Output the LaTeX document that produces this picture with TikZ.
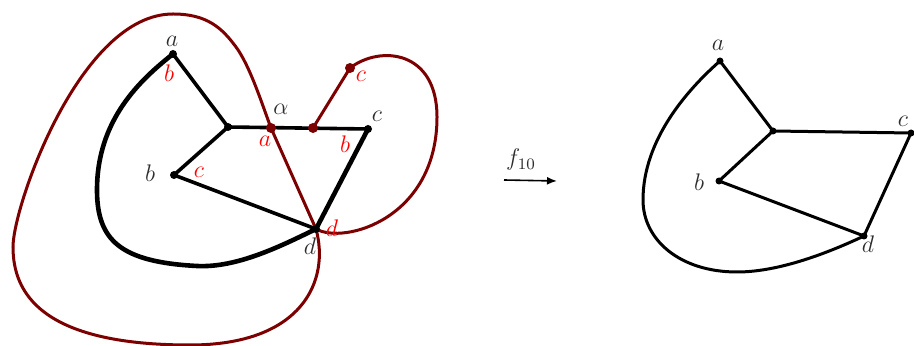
\documentclass[tikz,border=0pt]{standalone}
\usepackage{amsmath}
\usepackage{xcolor}
\usetikzlibrary{arrows.meta}
\definecolor{loopred}{RGB}{125,0,0}
\definecolor{labgray}{RGB}{45,45,45}
\tikzset{
    edge/.style={line width=1.8pt, black},
    heavyedge/.style={line width=2.3pt, black},
    loopline/.style={line width=1.5pt, loopred},
    vdot/.style={circle, fill=black, inner sep=0pt, minimum size=4pt},
    rdot/.style={circle, fill=loopred, inner sep=0pt, minimum size=5pt},
    lab/.style={text=labgray, inner sep=0pt, font=\large},
    rlab/.style={text=red, inner sep=0pt, font=\large}
}

\begin{document}
\begin{tikzpicture}[x=0.5pt, y=-0.5pt]
    \useasboundingbox (0, 0) rectangle (914, 346);

    % left picture
    \coordinate (a) at (173, 54);
    \coordinate (h) at (228, 127);
    \coordinate (b) at (174, 175);
    \coordinate (c) at (368, 129);
    \coordinate (d) at (316, 229);
    \coordinate (al) at (271, 128);
    \coordinate (m) at (313, 128);
    \coordinate (t) at (350, 68);

    % the two loops
    \draw[loopline] (al) -- (d)
        .. controls (330, 280) and (303, 345) .. (190, 345)
        .. controls (40, 345) and (13, 292) .. (13, 247)
        .. controls (13, 206) and (80, 14) .. (173, 14)
        .. controls (207, 14) and (222, 28) .. (236, 47)
        .. controls (250, 66) and (262, 104) .. (al);
    \draw[loopline] (m) -- (t)
        .. controls (380, 45) and (437, 50) .. (437, 117)
        .. controls (437, 218) and (345, 245) .. (d);

    \draw[heavyedge] (a) .. controls (140, 80) and (97, 120) .. (97, 190)
        .. controls (97, 240) and (120, 262) .. (197, 266)
        .. controls (237, 268) and (281, 246) .. (d);
    \draw[edge] (a) -- (h) -- (b) -- (d);
    \draw[edge] (h) -- (c);
    \draw[heavyedge] (c) -- (d);

    \foreach \p in {a, h, b, c, d}
        \node[vdot] at (\p) {};
    \foreach \p in {al, m, t}
        \node[rdot] at (\p) {};

    \node[lab] (la) at (172, 41) {$a$};
    \node[lab] (lal) at (281, 109) {$\alpha$};
    \node[lab] (lc) at (377, 116) {$c$};
    \node[lab] (lb) at (150, 173) {$b$};
    \node[lab] (ld) at (310, 246) {$d$};

    \node[rlab] (ra) at (265, 141) {$a$};
    \node[rlab] (rb) at (169, 73) {$b$};
    \node[rlab] (rb2) at (345, 144) {$b$};
    \node[rlab] (rc) at (199, 172) {$c$};
    \node[rlab] (rc2) at (361, 76) {$c$};
    \node[rlab] (rd) at (332, 228) {$d$};

    % the map
    \coordinate (fs) at (504, 180);
    \coordinate (fe) at (557, 181);
    \draw[line width=0.8pt, -{Latex[length=5pt, width=4pt]}] (fs) -- (fe);
    \node[lab] (f) at (521, 160) {$f_{10}$};

    % right picture
    \coordinate (a2) at (720, 61);
    \coordinate (h2) at (773, 131);
    \coordinate (b2) at (719, 181);
    \coordinate (c2) at (911, 133);
    \coordinate (d2) at (864, 236);

    \draw[loopline, black] (a2) .. controls (687, 90) and (643, 140) .. (643, 200)
        .. controls (643, 240) and (680, 272) .. (737, 272)
        .. controls (780, 272) and (830, 252) .. (d2);
    \draw[loopline, black] (a2) -- (h2) -- (b2) -- (d2) -- (c2) -- (h2);

    \foreach \p in {a2, h2, b2, c2, d2}
        \node[vdot, minimum size=3.5pt] at (\p) {};

    \node[lab] (la2) at (718, 45) {$a$};
    \node[lab] (lc2) at (903, 121) {$c$};
    \node[lab] (lb2) at (699, 182) {$b$};
    \node[lab] (ld2) at (868, 244) {$d$};
\end{tikzpicture}
\end{document}
